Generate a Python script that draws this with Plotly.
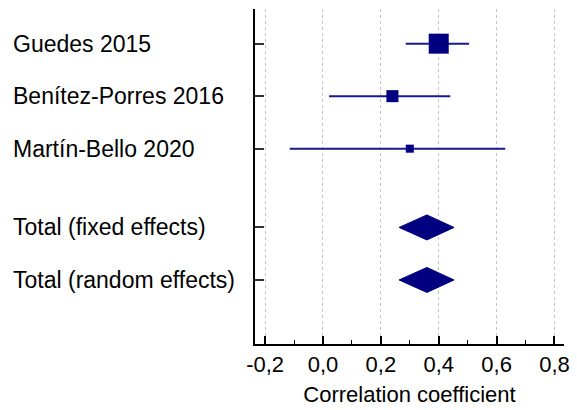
import plotly.graph_objects as go

# Study-level correlation estimates with 95% confidence intervals
studies = ["Guedes 2015", "Benítez-Porres 2016", "Martín-Bello 2020"]
study_r = [0.40, 0.24, 0.30]
study_lo = [0.286, 0.021, -0.115]
study_hi = [0.505, 0.440, 0.630]
study_weight = [65.0, 23.6, 10.5]  # percent weight

# Pooled estimates
pooled = ["Total (fixed effects)", "Total (random effects)"]
pooled_r = [0.359, 0.359]
pooled_lo = [0.263, 0.263]
pooled_hi = [0.453, 0.453]

# Row positions (blank gap between studies and totals)
study_rows = [0, 1, 2]
pooled_rows = [3.5, 4.5]

x_tickvals = [-0.2, 0.0, 0.2, 0.4, 0.6, 0.8]
x_ticktext = ["-0,2", "0,0", "0,2", "0,4", "0,6", "0,8"]

NAVY = "#000080"
FONT = "Liberation Sans, Arial, sans-serif"

fig = go.Figure()

# Study squares with CI whiskers; square area proportional to weight
sizes = [2.48 * (w ** 0.5) for w in study_weight]
fig.add_trace(go.Scatter(
    x=study_r, y=study_rows, mode="markers",
    marker=dict(symbol="square", size=sizes, color=NAVY, opacity=1,
                line=dict(width=0)),
    error_x=dict(type="data", symmetric=False,
                 array=[h - r for h, r in zip(study_hi, study_r)],
                 arrayminus=[r - l for r, l in zip(study_r, study_lo)],
                 width=0, thickness=2, color="#1a1a90"),
    showlegend=False, hoverinfo="skip",
))

# Pooled diamonds
half_h = 0.238
for r, lo, hi, row in zip(pooled_r, pooled_lo, pooled_hi, pooled_rows):
    fig.add_trace(go.Scatter(
        x=[lo, r, hi, r, lo], y=[row, row - half_h, row, row + half_h, row],
        mode="lines", fill="toself", fillcolor=NAVY,
        line=dict(color=NAVY, width=1), showlegend=False, hoverinfo="skip",
    ))

# Row labels, left-aligned in the margin
for name, row in zip(studies + pooled, study_rows + pooled_rows):
    fig.add_annotation(
        x=-0.79, xref="paper", y=row, yref="y", text=name,
        showarrow=False, xanchor="left", yanchor="middle",
        font=dict(family=FONT, size=23, color="#000000"),
    )

fig.update_layout(
    width=577, height=410,
    margin=dict(l=255, r=7, t=9, b=66),
    paper_bgcolor="white", plot_bgcolor="white",
    font=dict(family=FONT, color="#000000"),
)

fig.update_xaxes(
    range=[-0.235, 0.833],
    tickvals=x_tickvals, ticktext=x_ticktext,
    tickfont=dict(size=22, family=FONT, color="#000000"),
    ticks="inside", ticklen=8, tickwidth=1.5, tickcolor="#000000",
    minor=dict(tickvals=[-0.1, 0.1, 0.3, 0.5, 0.7], ticks="inside",
               ticklen=4, tickwidth=1, tickcolor="#000000", showgrid=False),
    showline=True, linecolor="#000000", linewidth=2,
    showgrid=True, gridcolor="#c4c4c4", griddash="dot", gridwidth=1,
    zeroline=False,
    title=dict(text="Correlation coefficient",
               font=dict(size=22, family=FONT, color="#000000"), standoff=10),
)

fig.update_yaxes(
    range=[5.72, -0.66],
    tickvals=study_rows + pooled_rows, showticklabels=False,
    ticks="inside", ticklen=9, tickwidth=1.5, tickcolor="#333333",
    showline=True, linecolor="#000000", linewidth=2,
    showgrid=False, zeroline=False,
)

fig.write_html("out.html")
